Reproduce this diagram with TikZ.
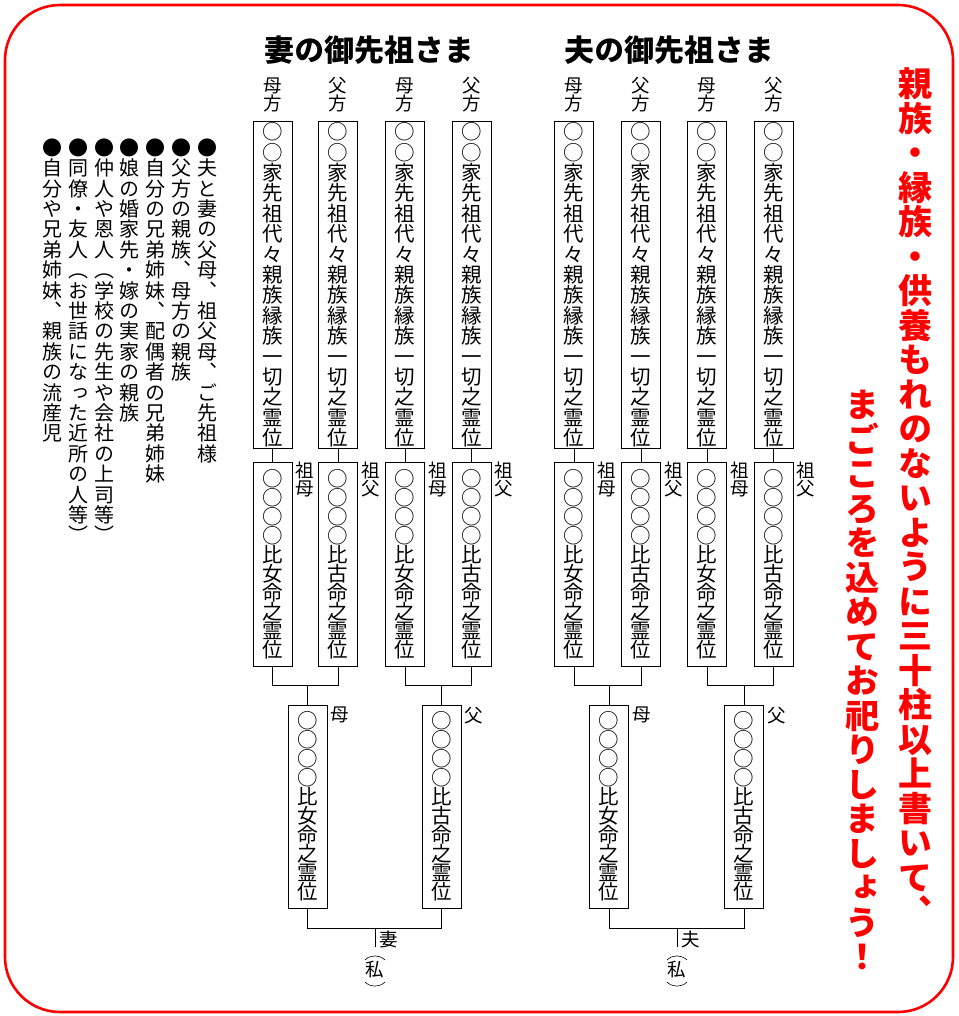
\documentclass[tikz,border=0pt]{standalone}
\usepackage{fontspec}
\newfontfamily\jp[RawFeature=+vert]{Noto Sans CJK JP}
\usetikzlibrary{positioning}

% senkrechter Satz: ein Zeichen pro Zeile
\newlength\tatestep
\def\tateend{\relax}
\newcommand\tatecell[1]{\vbox to\tatestep{\vss\hbox to 1em{\hss\raisebox{0pt}[.88em][.12em]{#1}\hss}\vss}}
\def\tateloop#1{\ifx#1\tateend\else\tatecell{#1}\expandafter\tateloop\fi}
\newcommand\tate[2][20pt]{\setlength\tatestep{#1}\vbox{\offinterlineskip\expandafter\tateloop#2\tateend}}

\begin{document}
\begin{tikzpicture}[
  x=1pt, y=-1pt, % Pixelkoordinaten, y nach unten
  line width=0.9pt,
  ihai/.style={draw, minimum width=39pt, inner sep=0pt, font=\jp\fontsize{20.5}{20.5}\selectfont},
  yomi/.style={inner sep=0pt, font=\jp\fontsize{18.5}{18.5}\selectfont},
  notiz/.style={inner sep=0pt, font=\jp\fontsize{20}{20}\selectfont},
  titel/.style={inner sep=0pt, font=\jp\bfseries\fontsize{30}{30}\selectfont},
  mahnung/.style={inner sep=0pt, text=red, font=\jp\bfseries\fontsize{34}{34}\selectfont}
  ]
\useasboundingbox (0,0) rectangle (958,1016);
% Rahmen
\draw[red, line width=2.6pt, rounded corners=55pt] (5,5) rectangle (953,1012);
% Ueberschriften
\node[titel] (titelW) at (369,50) {妻の御先祖さま};
\node[titel] (titelH) at (669,50) {夫の御先祖さま};
% Reihe 1: Ahnen, Reihe 2: Grosseltern
\foreach \n/\x/\seite/\gross/\name in {a/272.5/母方/祖母/女, b/338/父方/祖父/古, c/405/母方/祖母/女, d/471.5/父方/祖父/古,
                                 e/574/母方/祖母/女, f/641/父方/祖父/古, g/707/母方/祖母/女, h/773.5/父方/祖父/古}{
  \node[ihai, minimum height=316pt] (oben\n) at (\x,285) {\tate[20.4pt]{○○家先祖代々親族縁族一切之霊位}};
  \node[yomi, above=9pt of oben\n] (seite\n) {\tate[17.5pt]{\seite}};
  \node[ihai, minimum height=204pt] (mitte\n) at (\x,564) {\tate[19pt]{○○○○比\name 命之霊位}};
  \node[yomi, below right=0pt and 3pt of mitte\n.north east] (gross\n) {\tate[17.5pt]{\gross}};
  \draw (oben\n) -- (mitte\n);
}
% Reihe 3: Eltern
\foreach \o/\x/\wer/\name in {A/307.5/母/女, B/441.5/父/古, C/609/母/女, D/744/父/古}{
  \node[ihai, minimum height=203pt] (eltern\o) at (\x,806.5) {\tate[19pt]{○○○○比\name 命之霊位}};
  \node[yomi, below right=2pt and 3pt of eltern\o.north east] (wer\o) {\wer};
}
\foreach \l/\r/\o in {a/b/A, c/d/B, e/f/C, g/h/D}{
  \draw (mitte\l.south) -- ++(0,19) coordinate (balken\o) -| (mitte\r.south);
  \draw (eltern\o) -- (eltern\o |- balken\o);
}
% ich
\node[yomi] (ichW) at (375,970) {私};
\node[yomi] (ichH) at (677,970) {私};
\node[yomi] (tsuma) at (389,939) {妻};
\node[yomi] (otto) at (691,939) {夫};
\draw (elternA.south) -- ++(0,20) coordinate (balkenW) -| (elternB.south);
\draw (elternC.south) -- ++(0,20) coordinate (balkenH) -| (elternD.south);
\draw (ichW |- balkenW) -- ++(0,19);
\draw (ichH |- balkenH) -- ++(0,19);
\foreach \i in {W,H}{
  \draw[line width=0.6pt] ([xshift=-10pt,yshift=10pt]ich\i.center) to[bend left=45] ([xshift=10pt,yshift=10pt]ich\i.center);
  \draw[line width=0.6pt] ([xshift=-10pt,yshift=-12pt]ich\i.center) to[bend right=45] ([xshift=10pt,yshift=-12pt]ich\i.center);
}
% Hinweise links
\foreach \zeile [count=\i from 0] in {●夫と妻の父母、祖父母、ご先祖様, ●父方の親族、母方の親族,
    ●自分の兄弟姉妹、配偶者の兄弟姉妹, ●娘の婚家先・嫁の実家の親族,
    ●仲人や恩人（学校の先生や会社の上司等）, ●同僚・友人（お世話になった近所の人等）,
    ●自分や兄弟姉妹、親族の流産児}
  \node[notiz, anchor=north] (notiz\i) at (207-25.7*\i,137) {\tate[20.4pt]{\zeile}};
% Mahnung rechts
\node[mahnung, anchor=north] (mahnung1) at (915,66) {\tate[34.5pt]{親族・縁族・供養もれのないように三十柱以上書いて、}};
\node[mahnung, anchor=north] (mahnung2) at (862,387) {\tate[34.5pt]{まごころを込めてお祀りしましょう！}};
\end{tikzpicture}
\end{document}
